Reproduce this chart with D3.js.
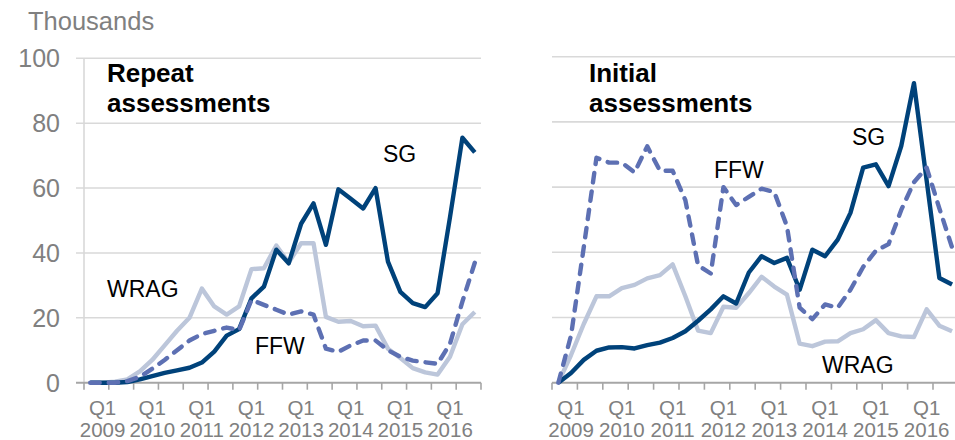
<!DOCTYPE html>
<html>
<head>
<meta charset="utf-8">
<script src="https://cdn.jsdelivr.net/npm/d3@7"></script>
<style>
  html, body { margin: 0; padding: 0; background: #fff; }
  svg { display: block; font-family: "Liberation Sans", Arial, sans-serif; }
</style>
</head>
<body>
<svg id="chart" width="955" height="440"></svg>
<script>
// ---- Data (thousands) ----
const quarters = ["Q4 2008",
  "Q1 2009","Q2 2009","Q3 2009","Q4 2009",
  "Q1 2010","Q2 2010","Q3 2010","Q4 2010",
  "Q1 2011","Q2 2011","Q3 2011","Q4 2011",
  "Q1 2012","Q2 2012","Q3 2012","Q4 2012",
  "Q1 2013","Q2 2013","Q3 2013","Q4 2013",
  "Q1 2014","Q2 2014","Q3 2014","Q4 2014",
  "Q1 2015","Q2 2015","Q3 2015","Q4 2015",
  "Q1 2016","Q2 2016","Q3 2016"];
const labelQuarters = ["Q1 2009","Q1 2010","Q1 2011","Q1 2012","Q1 2013","Q1 2014","Q1 2015","Q1 2016"];
const yTicks = [0, 20, 40, 60, 80, 100];

const repeatSG   = [0,0,0,0.2,1,2,3,3.8,4.6,6.2,9.6,14.5,16.5,26,29.6,41,36.8,49,55.3,42.5,59.6,56.7,53.7,60,37.3,28,24.5,23.3,27.6,51,75.5,71];
const repeatFFW  = [0,0,0,0.5,1.8,4.3,7,10,13,15,16,17,16.2,25.5,24,22.5,21,22,21,10.5,9.5,11.5,13,13,10,8,6.8,6.3,5.8,12,25,37];
const repeatWRAG = [0,0,0.3,1,3.5,7,11.5,16,20,29,23.5,21,23.5,35,35.3,42.3,37,43,43,20.3,18.8,19,17.4,17.6,10.5,7.6,4.5,3.2,2.5,8,18,21.8];

const initialSG   = [0,3,7,9.8,10.8,10.9,10.5,11.5,12.3,13.7,15.8,19,22.5,26.5,24.3,33.8,38.8,36.7,38.3,28.5,40.8,38.8,43.9,52.1,66,67,60.3,72.6,91.9,62,32.1,30.1];
const initialFFW  = [0,14.5,41.5,69,67.5,67.5,64.5,72.5,65,65,56,36,33.5,60,54.5,57,59.5,58.5,48,23,19.5,24,23,28.5,35.5,40.5,42.5,53,61.5,66,53.5,41.5];
const initialWRAG = [0,8.5,18,26.5,26.5,29,30,32,33,36.3,26.5,16,15.2,23.3,23,27.5,32.5,29.5,27,12,11.2,12.6,12.7,15.2,16.4,19.2,15.2,14.2,14,22.5,17.5,15.8];

// ---- Styles ----
const C_SG = "#00427a", C_FFW = "#5d70b3", C_WRAG = "#bcc6da";
const GRID = "#d9d9d9", AXIS = "#a6a6a6", TICKTXT = "#808080";

const svg = d3.select("#chart");

svg.append("text").attr("x", 28).attr("y", 30)
  .attr("font-size", 25.5).attr("fill", TICKTXT).text("Thousands");

function panel(cfg) {
  const x = d3.scalePoint().domain(quarters).range([cfg.x0, cfg.x1]).padding(0.5);
  const step = x.step();
  const y = d3.scaleLinear().domain([0, 100]).range([382.7, cfg.yTop]);
  const g = svg.append("g");

  // grid
  g.selectAll(".grid").data(yTicks.filter(d => d > 0)).join("line")
    .attr("x1", cfg.gridStart).attr("x2", cfg.x1)
    .attr("y1", d => y(d)).attr("y2", d => y(d))
    .attr("stroke", GRID).attr("stroke-width", 1.6);

  if (cfg.yAxis) {
    g.append("line").attr("x1", cfg.x0).attr("x2", cfg.x0)
      .attr("y1", y(100)).attr("y2", y(0))
      .attr("stroke", GRID).attr("stroke-width", 1.6);
    g.selectAll(".yl").data(yTicks).join("text")
      .attr("x", 60).attr("y", d => y(d)).attr("dy", "0.36em")
      .attr("text-anchor", "end").attr("font-size", 25).attr("fill", TICKTXT)
      .text(d => d);
  }

  // tick marks every two quarters (band boundaries)
  const tickPos = d3.range(0, quarters.length + 1, 2).map(i =>
    i < quarters.length ? x(quarters[i]) - step / 2 : x(quarters[quarters.length - 1]) + step / 2);
  g.selectAll(".tk").data(tickPos).join("line")
    .attr("x1", d => d).attr("x2", d => d)
    .attr("y1", y(0)).attr("y2", y(0) + 7)
    .attr("stroke", AXIS).attr("stroke-width", 1.6);
  g.append("line").attr("x1", cfg.yAxis ? cfg.gridStart : cfg.x0).attr("x2", cfg.x1)
    .attr("y1", y(0)).attr("y2", y(0))
    .attr("stroke", AXIS).attr("stroke-width", 2);

  // x labels
  const xl = g.selectAll(".xl").data(labelQuarters).join("text")
    .attr("text-anchor", "middle").attr("font-size", 20.5).attr("fill", TICKTXT);
  xl.append("tspan").attr("x", d => x(d)).attr("y", 415).text(d => d.split(" ")[0]);
  xl.append("tspan").attr("x", d => x(d)).attr("y", 437).text(d => d.split(" ")[1]);

  const line = d3.line().x((d, i) => x(quarters[i])).y(d => y(d)).curve(d3.curveLinear);
  const series = [
    {v: cfg.wrag, c: C_WRAG, dash: null},
    {v: cfg.sg,   c: C_SG,   dash: null},
    {v: cfg.ffw,  c: C_FFW,  dash: "9.5,9"}
  ];
  series.forEach(s => {
    g.append("path").datum(s.v).attr("d", line)
      .attr("fill", "none").attr("stroke", s.c).attr("stroke-width", 4.4)
      .attr("stroke-linejoin", "round")
      .attr("stroke-linecap", s.dash ? "round" : "butt")
      .attr("stroke-dasharray", s.dash);
  });

  // title
  const t = g.append("text").attr("font-size", 26).attr("font-weight", "bold").attr("fill", "#000");
  t.append("tspan").attr("x", cfg.titleX).attr("y", 82).text(cfg.title[0]);
  t.append("tspan").attr("x", cfg.titleX).attr("y", 112).text(cfg.title[1]);

  cfg.labels.forEach(l => {
    g.append("text").attr("x", l[1]).attr("y", l[2]).attr("font-size", 23).attr("fill", "#000").text(l[0]);
  });
}

panel({x0: 84, x1: 481, gridStart: 76, yTop: 58.3, yAxis: true,
  sg: repeatSG, ffw: repeatFFW, wrag: repeatWRAG,
  title: ["Repeat", "assessments"], titleX: 107,
  labels: [["SG", 383, 162], ["WRAG", 107, 297], ["FFW", 255, 354]]});

panel({x0: 552, x1: 958.4, gridStart: 552, yTop: 56.7, yAxis: false,
  sg: initialSG, ffw: initialFFW, wrag: initialWRAG,
  title: ["Initial", "assessments"], titleX: 589,
  labels: [["SG", 852, 145], ["FFW", 714, 178], ["WRAG", 822, 373]]});
</script>
</body>
</html>
